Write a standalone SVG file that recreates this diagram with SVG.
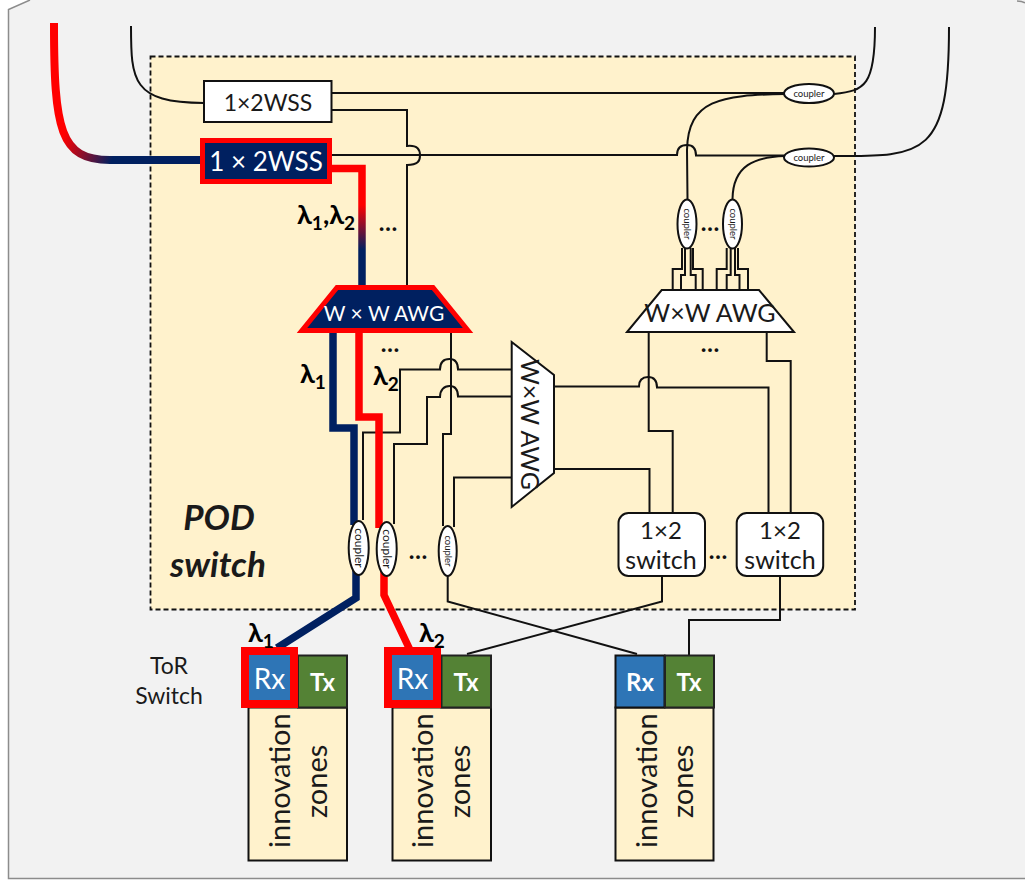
<svg xmlns="http://www.w3.org/2000/svg" width="1025" height="880" viewBox="0 0 1025 880">
<style>
text{font-family:Lato,"Liberation Sans",sans-serif;fill:#1a1a1a}
.th{fill:none;stroke:#111;stroke-width:2}
.navy{fill:none;stroke:#002060;stroke-width:7.5;stroke-linejoin:miter}
.red{fill:none;stroke:#f00;stroke-width:7.5;stroke-linejoin:miter}
.box{fill:#fff;stroke:#111;stroke-width:2}
.cp{fill:#fff;stroke:#111;stroke-width:2}
.cpt{font-size:9.5px;text-anchor:middle}
.lam{font-size:27px;font-weight:700;fill:#000}
.sub{font-size:19px;font-weight:700;fill:#000}
.dots{font-size:24px;font-weight:700;text-anchor:middle;fill:#111}
.rx{fill:#2e75b6}
.tx{fill:#548235;stroke:#222;stroke-width:2}
.zone{fill:#fff2cc;stroke:#111;stroke-width:2}
.inno{font-size:29px}
.wt{fill:#fff;text-anchor:middle}
</style>
<defs>
<linearGradient id="g1" gradientUnits="userSpaceOnUse" x1="62" y1="140" x2="112" y2="160"><stop offset="0" stop-color="#f00"/><stop offset="1" stop-color="#002060"/></linearGradient>
<linearGradient id="g2" gradientUnits="userSpaceOnUse" x1="362" y1="205" x2="362" y2="250"><stop offset="0" stop-color="#f00"/><stop offset="1" stop-color="#002060"/></linearGradient>
</defs>
<path d="M30 0L8.500 9.500V878.500H1025V0Z" fill="#f2f2f2"/>
<path d="M30 0L8.500 9.500V878.500H1025" fill="none" stroke="#8c8c8c" stroke-width="1.500"/>
<path d="M1017 1Q1022 1 1025 3" fill="none" stroke="#8c8c8c" stroke-width="1.500"/>
<rect id="pod" x="150.500" y="56.500" width="704.500" height="553" fill="#fff2cc" stroke="#111" stroke-width="1.800" stroke-dasharray="5 3"/>
<g id="connectors">
<path class="th" d="M131 26C131 80 132 103 204 103"/>
<path class="th" d="M332 93H785"/>
<path class="th" d="M332 110H407V146C418 145 420 150 420 155.500C420 161 418 165 407 165V286"/>
<path class="th" d="M332 155H677C677 148 681 145 687 145C693 145 696 148 696 155.500H785"/>
<path class="th" d="M785 94C720 95 688 100 687 150L687.500 199"/>
<path class="th" d="M785 156C755 157 733 165 732.500 199"/>
<path class="th" d="M834 94C865 91 875 85 875 27"/>
<path class="th" d="M834 156C925 157 949 155 949 27"/>
<path class="th" d="M682 248V269H672.700V290M685 248V275H681V290M690.700 248V275H695.700V290M693 248V269H702.700V290"/>
<path class="th" d="M726.700 248V269H716.700V290M730.700 248V275H726.700V290M735 248V275H739.500V290M738 248V269H748V290"/>
<path fill="none" stroke="url(#g1)" stroke-width="8" d="M54 23C54 130 60 160 110 160H200"/>
<path fill="none" stroke="url(#g2)" stroke-width="7.500" d="M332 168.500H362V287"/>
<path class="th" d="M451 332V434H443V526"/>
<path class="th" d="M363 520V432.500H400V369.500H440C440 362 444 359 449.500 359C455 359 458 362 458 369.500H511"/>
<path class="th" d="M394 524V444H427V397H440C440 390 444 386 449.500 386C455 386 458 390 458 396.500H511"/>
<path class="th" d="M454 527V477.500H511"/>
<path class="th" d="M554 386.500H639C639 380 642 377 648 377C654 377 657 380 657 387.500H768.500V513"/>
<path class="th" d="M554 469H649.500V513"/>
<path class="th" d="M648.700 332V431H672.700V513"/>
<path class="th" d="M766.700 332V361H790.700V513"/>
<path class="th" d="M447.700 576V601.500L637 654"/>
<path class="th" d="M662 576V601.500L467 654"/>
<path class="th" d="M780 576V620H689V655"/>
<path class="navy" d="M333 332V428H354V525M356 570V598L277 648"/>
<path class="red" d="M359 332V417H379V528M384 570V595L410 650"/>
</g>
<g id="wss1"><rect class="box" x="204" y="81" width="127.500" height="41"/><text x="268" y="111" font-size="23" text-anchor="middle">1×2WSS</text></g>
<g id="wss2"><rect x="202.500" y="140.500" width="127" height="41" fill="#002060" stroke="#f00" stroke-width="5"/><text class="wt" x="266" y="171" font-size="26">1 × 2WSS</text></g>
<g id="awg-top-left"><polygon points="337,287.500 433,287.500 468,330.500 302,330.500" fill="#002060" stroke="#f00" stroke-width="5"/><text class="wt" x="384" y="321" font-size="21">W × W AWG</text></g>
<g id="awg-top-right"><polygon points="661.700,290 759,290 794,332 627,332" class="box"/><text x="710" y="322" font-size="25" text-anchor="middle">W×W AWG</text></g>
<g id="awg-side"><polygon points="511.700,342 554,375 554,473 511.700,507" class="box"/><text transform="translate(521,424.500) rotate(90)" font-size="25" text-anchor="middle">W×W AWG</text></g>
<g id="coupler-h1"><ellipse class="cp" cx="809" cy="93.500" rx="25" ry="9.500"/><text class="cpt" x="809" y="97">coupler</text></g>
<g id="coupler-h2"><ellipse class="cp" cx="809" cy="157.500" rx="25" ry="9"/><text class="cpt" x="809" y="161">coupler</text></g>
<g id="coupler-v1"><ellipse class="cp" cx="687" cy="224" rx="9.500" ry="24.500"/><text class="cpt" transform="translate(684,224) rotate(90)">coupler</text></g>
<g id="coupler-v2"><ellipse class="cp" cx="732.500" cy="224" rx="9.500" ry="24.500"/><text class="cpt" transform="translate(729.500,224) rotate(90)">coupler</text></g>
<g id="coupler-1"><ellipse class="cp" cx="358.700" cy="548" rx="10" ry="27" stroke-width="2.500"/><text transform="translate(355,548) rotate(90)" font-size="12" text-anchor="middle">coupler</text></g>
<g id="coupler-2"><ellipse class="cp" cx="386.700" cy="549" rx="10" ry="27" stroke-width="2.500"/><text transform="translate(383,549) rotate(90)" font-size="12" text-anchor="middle">coupler</text></g>
<g id="coupler-3"><ellipse class="cp" cx="447.700" cy="551" rx="9" ry="25"/><text class="cpt" transform="translate(444.700,551) rotate(90)">coupler</text></g>
<g id="switch-1"><rect class="box" x="618.500" y="513" width="86.500" height="63" rx="10"/><text x="661" y="539" font-size="24" text-anchor="middle">1×2</text><text x="661" y="569" font-size="25" text-anchor="middle">switch</text></g>
<g id="switch-2"><rect class="box" x="736.700" y="513" width="86.500" height="63" rx="10"/><text x="780" y="539" font-size="24" text-anchor="middle">1×2</text><text x="780" y="569" font-size="25" text-anchor="middle">switch</text></g>
<g id="tor-1"><rect class="zone" x="248.500" y="707.500" width="98.500" height="153"/><rect class="tx" x="298" y="655.500" width="49" height="52"/><rect class="rx" x="245" y="651" width="49" height="53" stroke="#f00" stroke-width="8"/><text class="wt" x="269.500" y="689" font-size="28">Rx</text><text class="wt" x="322.500" y="691" font-size="24" font-weight="700">Tx</text><text class="inno" transform="translate(290,848) rotate(-90)">innovation</text><text class="inno" transform="translate(327,818) rotate(-90)">zones</text></g>
<g id="tor-2"><rect class="zone" x="392.500" y="707.500" width="98.500" height="153"/><rect class="tx" x="441.500" y="655.500" width="49.500" height="52"/><rect class="rx" x="388" y="651" width="49" height="53" stroke="#f00" stroke-width="8"/><text class="wt" x="412.500" y="689" font-size="28">Rx</text><text class="wt" x="466" y="691" font-size="24" font-weight="700">Tx</text><text class="inno" transform="translate(433,848) rotate(-90)">innovation</text><text class="inno" transform="translate(470,818) rotate(-90)">zones</text></g>
<g id="tor-3"><rect class="zone" x="615.500" y="707.500" width="98" height="153"/><rect class="rx" x="615.500" y="655.500" width="49" height="52" stroke="#111" stroke-width="2"/><rect class="tx" x="665" y="655.500" width="49" height="52" stroke-width="3"/><text class="wt" x="640" y="691" font-size="24" font-weight="700">Rx</text><text class="wt" x="689" y="691" font-size="24" font-weight="700">Tx</text><text class="inno" transform="translate(656.500,848) rotate(-90)">innovation</text><text class="inno" transform="translate(693,818) rotate(-90)">zones</text></g>
<g id="labels">
<text class="lam" x="297" y="224">λ<tspan class="sub" dy="6">1</tspan><tspan dy="-6">,λ</tspan><tspan class="sub" dy="6">2</tspan></text>
<text class="lam" x="300" y="383">λ<tspan class="sub" dy="6">1</tspan></text>
<text class="lam" x="373" y="385">λ<tspan class="sub" dy="6">2</tspan></text>
<text class="lam" x="248" y="642">λ<tspan class="sub" dy="6">1</tspan></text>
<text class="lam" x="419" y="642">λ<tspan class="sub" dy="6">2</tspan></text>
<text class="dots" x="388" y="231">…</text><text class="dots" x="390" y="352">…</text><text class="dots" x="418" y="559">…</text><text class="dots" x="710" y="231">…</text><text class="dots" x="710" y="352">…</text><text class="dots" x="718" y="559">…</text>
<text x="219" y="530" font-size="35" font-weight="700" font-style="italic" text-anchor="middle" fill="#000">POD</text>
<text x="218" y="577" font-size="35" font-weight="700" font-style="italic" text-anchor="middle" fill="#000">switch</text>
<text x="169" y="674" font-size="23" text-anchor="middle">ToR</text>
<text x="169" y="704" font-size="23" text-anchor="middle">Switch</text>
</g>
</svg>
